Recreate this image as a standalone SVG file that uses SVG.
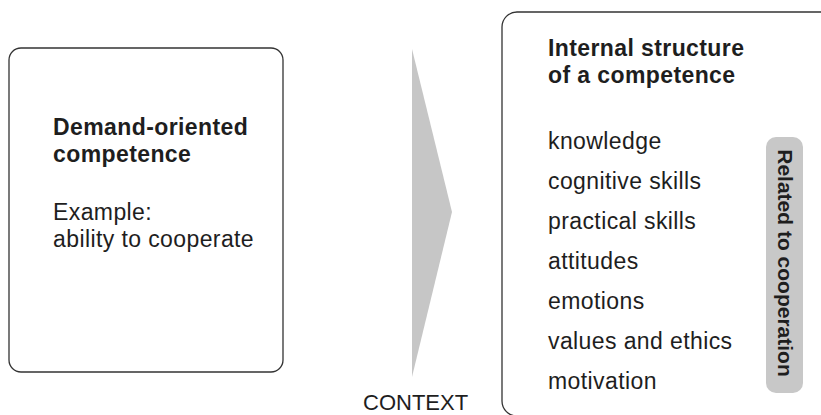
<svg xmlns="http://www.w3.org/2000/svg" width="821" height="415" viewBox="0 0 821 415">
<style>
.box{fill:#fff;stroke:#333;stroke-width:1.3}
.t{font-family:"Liberation Sans",Arial,sans-serif;font-size:23px;fill:#1e1e1e}
.b{font-weight:bold}
.ls{letter-spacing:0.4px}
</style>
<rect width="821" height="415" fill="#fff"/>
<g id="demand-node">
<rect class="box" x="9" y="48" width="274" height="324" rx="12"/>
<text class="t b ls" x="53" y="135">Demand-oriented</text>
<text class="t b ls" x="53" y="162">competence</text>
<text class="t ls" x="53" y="220">Example:</text>
<text class="t ls" x="53" y="247">ability to cooperate</text>
</g>
<g id="connectors">
<polygon points="412,49 452,212 412,377" fill="#c6c6c6"/>
</g>
<g id="context-label">
<text class="t" style="font-size:22px" x="363" y="410">CONTEXT</text>
</g>
<g id="structure-node">
<rect class="box" x="502" y="12" width="335" height="404" rx="15"/>
<text class="t b ls" x="548" y="56">Internal structure</text>
<text class="t b ls" x="548" y="83">of a competence</text>
<text class="t ls" x="548" y="149">knowledge</text>
<text class="t ls" x="548" y="189">cognitive skills</text>
<text class="t ls" x="548" y="229">practical skills</text>
<text class="t ls" x="548" y="269">attitudes</text>
<text class="t ls" x="548" y="309">emotions</text>
<text class="t ls" x="548" y="349">values and ethics</text>
<text class="t ls" x="548" y="389">motivation</text>
</g>
<g id="cooperation-node">
<rect x="766" y="137" width="37" height="256" rx="10" fill="#c8c8c8"/>
<text class="t b" style="font-size:21px" text-anchor="middle" transform="translate(778,263) rotate(90)">Related to cooperation</text>
</g>
</svg>
